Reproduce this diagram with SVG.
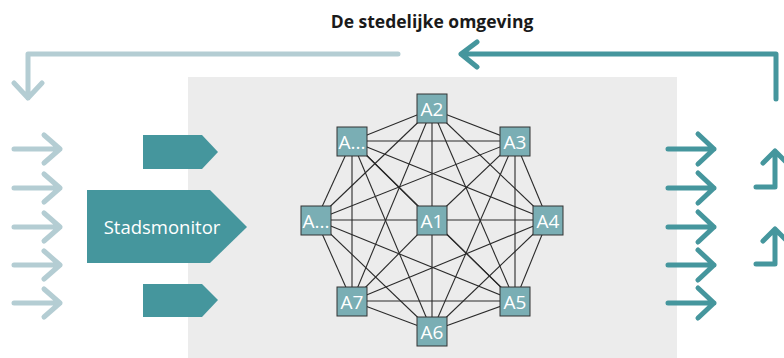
<svg xmlns="http://www.w3.org/2000/svg" width="784" height="358" viewBox="0 0 784 358">
<defs>
<style>
.light{fill:none;stroke:#b4cdd3;stroke-width:5;stroke-linecap:round;stroke-linejoin:round}
.dark{fill:none;stroke:#45969d;stroke-width:5;stroke-linecap:round;stroke-linejoin:round}
.edge{stroke:#2a2a2a;stroke-width:1.1}
.box{fill:#7aaeb4;stroke:#333;stroke-width:1}
.lbl{font-family:"Open Sans","Noto Sans",sans-serif;font-size:19px;fill:#fff;text-anchor:middle}
.pent{fill:#45969d}
</style>
</defs>
<rect x="188" y="77" width="489" height="281" fill="#ececec"/>
<text x="432" y="28" font-family="Open Sans, Noto Sans, sans-serif" font-weight="bold" font-size="17.5" fill="#1a1a1a" text-anchor="middle">De stedelijke omgeving</text>
<g id="feedback-light">
<path class="light" d="M398 54 H28 V98 M14 83 L28 98 L42 83"/>
</g>
<g id="feedback-dark">
<path class="dark" d="M776 99 V54 H461 M477 42 L461 54 L477 67"/>
</g>
<g id="inputs">
<path class="light" d="M14 149 H60 M44 135 L60 149 L44 163"/>
<path class="light" d="M14 188 H60 M44 174 L60 188 L44 202"/>
<path class="light" d="M14 227 H60 M44 213 L60 227 L44 241"/>
<path class="light" d="M14 265 H60 M44 251 L60 265 L44 279"/>
<path class="light" d="M14 303 H60 M44 289 L60 303 L44 317"/>
</g>
<g id="outputs">
<path class="dark" d="M668 149 H714 M698 134 L714 149 L698 164"/>
<path class="dark" d="M668 188 H714 M698 173 L714 188 L698 203"/>
<path class="dark" d="M668 227 H714 M698 212 L714 227 L698 242"/>
<path class="dark" d="M668 265 H714 M698 250 L714 265 L698 280"/>
<path class="dark" d="M668 303 H714 M698 288 L714 303 L698 318"/>
<path class="dark" d="M756 187 H775 V151 M763 163 L775 151 L787 163"/>
<path class="dark" d="M756 264 H775 V229 M763 241 L775 229 L787 241"/>
</g>
<g id="pent-top"><polygon class="pent" points="143,135 202,135 218,152 202,169 143,169"/></g>
<g id="stadsmonitor">
<polygon class="pent" points="87,190 210,190 247,227 210,263 87,263"/>
<text x="162" y="234" font-family="Open Sans, Noto Sans, sans-serif" font-size="18.5" fill="#fff" text-anchor="middle">Stadsmonitor</text>
</g>
<g id="pent-bottom"><polygon class="pent" points="143,284 202,284 218,300 202,317 143,317"/></g>
<g id="connectors">
<line class="edge" x1="432" y1="220" x2="432" y2="109"/>
<line class="edge" x1="432" y1="220" x2="515" y2="141"/>
<line class="edge" x1="432" y1="220" x2="548" y2="220"/>
<line class="edge" x1="432" y1="220" x2="515" y2="301"/>
<line class="edge" x1="432" y1="220" x2="432" y2="331"/>
<line class="edge" x1="432" y1="220" x2="352" y2="301"/>
<line class="edge" x1="432" y1="220" x2="316" y2="220"/>
<line class="edge" x1="432" y1="220" x2="352" y2="141"/>
<line class="edge" x1="432" y1="109" x2="515" y2="141"/>
<line class="edge" x1="432" y1="109" x2="548" y2="220"/>
<line class="edge" x1="432" y1="109" x2="515" y2="301"/>
<line class="edge" x1="432" y1="109" x2="352" y2="301"/>
<line class="edge" x1="432" y1="109" x2="316" y2="220"/>
<line class="edge" x1="432" y1="109" x2="352" y2="141"/>
<line class="edge" x1="515" y1="141" x2="548" y2="220"/>
<line class="edge" x1="515" y1="141" x2="515" y2="301"/>
<line class="edge" x1="515" y1="141" x2="432" y2="331"/>
<line class="edge" x1="515" y1="141" x2="316" y2="220"/>
<line class="edge" x1="515" y1="141" x2="352" y2="141"/>
<line class="edge" x1="548" y1="220" x2="515" y2="301"/>
<line class="edge" x1="548" y1="220" x2="432" y2="331"/>
<line class="edge" x1="548" y1="220" x2="352" y2="301"/>
<line class="edge" x1="548" y1="220" x2="352" y2="141"/>
<line class="edge" x1="515" y1="301" x2="432" y2="331"/>
<line class="edge" x1="515" y1="301" x2="352" y2="301"/>
<line class="edge" x1="515" y1="301" x2="316" y2="220"/>
<line class="edge" x1="515" y1="301" x2="352" y2="141"/>
<line class="edge" x1="432" y1="331" x2="352" y2="301"/>
<line class="edge" x1="432" y1="331" x2="316" y2="220"/>
<line class="edge" x1="432" y1="331" x2="352" y2="141"/>
<line class="edge" x1="352" y1="301" x2="316" y2="220"/>
<line class="edge" x1="352" y1="301" x2="352" y2="141"/>
<line class="edge" x1="316" y1="220" x2="352" y2="141"/>
</g>
<g id="A1"><rect class="box" x="417" y="206" width="30" height="29"/><text class="lbl" x="432" y="227.5">A1</text></g>
<g id="A2"><rect class="box" x="417" y="94" width="30" height="29"/><text class="lbl" x="432" y="115.5">A2</text></g>
<g id="A3"><rect class="box" x="500" y="127" width="30" height="29"/><text class="lbl" x="515" y="148.5">A3</text></g>
<g id="A4"><rect class="box" x="533" y="206" width="30" height="29"/><text class="lbl" x="548" y="227.5">A4</text></g>
<g id="A5"><rect class="box" x="500" y="287" width="30" height="29"/><text class="lbl" x="515" y="308.5">A5</text></g>
<g id="A6"><rect class="box" x="417" y="317" width="30" height="29"/><text class="lbl" x="432" y="338.5">A6</text></g>
<g id="A7"><rect class="box" x="337" y="287" width="30" height="29"/><text class="lbl" x="352" y="308.5">A7</text></g>
<g id="A-left"><rect class="box" x="301" y="206" width="30" height="29"/><text class="lbl" x="316" y="227.5">A...</text></g>
<g id="A-topleft"><rect class="box" x="337" y="127" width="30" height="29"/><text class="lbl" x="352" y="148.5">A...</text></g>
</svg>
